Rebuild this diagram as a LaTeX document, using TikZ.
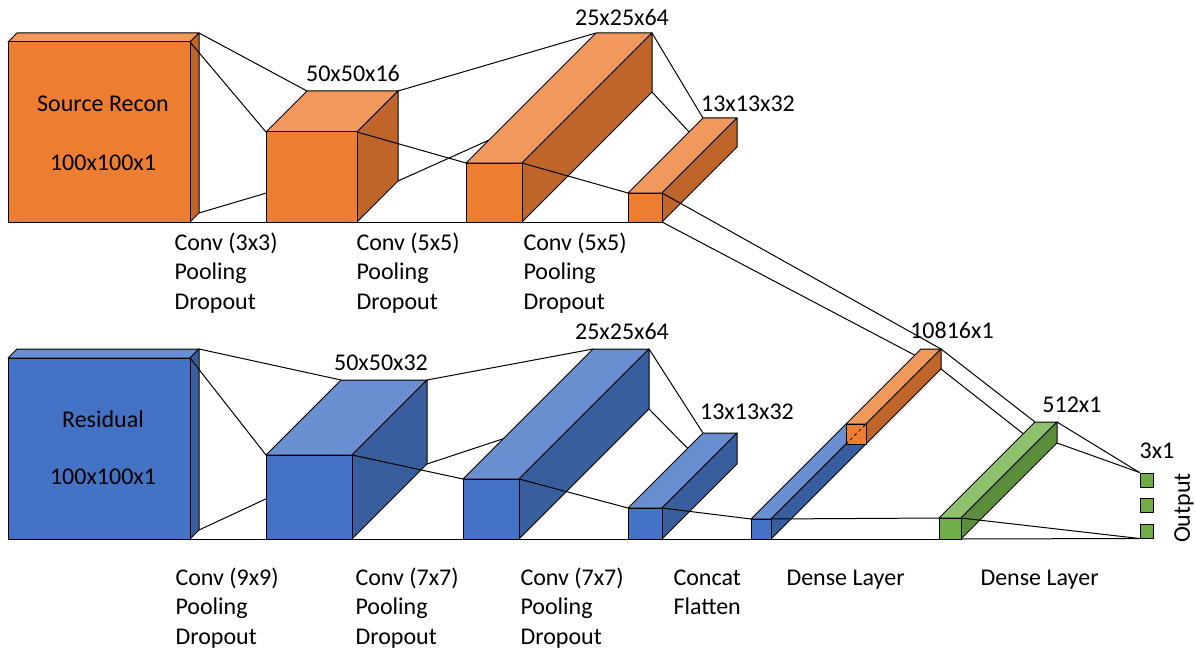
\documentclass[tikz,border=0pt]{standalone}
\usepackage{fontspec}
\setmainfont{Carlito}
\usetikzlibrary{calc}

\definecolor{orfront}{HTML}{ED7D31}
\definecolor{ortop}{HTML}{F1995C}
\definecolor{orside}{HTML}{C0652A}
\definecolor{blfront}{HTML}{4472C4}
\definecolor{bltop}{HTML}{6A8FD0}
\definecolor{blside}{HTML}{385E9E}
\definecolor{grfront}{HTML}{70AD47}
\definecolor{grtop}{HTML}{8DC16B}
\definecolor{grside}{HTML}{5B8E3A}

% corners of a block: name, left, top, right, bottom, depth
\newcommand{\defblock}[6]{%
  \coordinate (#1-ftl) at (#2,#3);
  \coordinate (#1-ftr) at (#4,#3);
  \coordinate (#1-fbr) at (#4,#5);
  \coordinate (#1-fbl) at (#2,#5);
  \coordinate (#1-btl) at ($(#1-ftl)+(#6,-#6)$);
  \coordinate (#1-btr) at ($(#1-ftr)+(#6,-#6)$);
  \coordinate (#1-bbr) at ($(#1-fbr)+(#6,-#6)$);
  \coordinate (#1-bbl) at ($(#1-fbl)+(#6,-#6)$);}
\newcommand{\drawblock}[2]{%
  \filldraw[fill=#2top] (#1-ftl) -- (#1-btl) -- (#1-btr) -- (#1-ftr) -- cycle;
  \filldraw[fill=#2side] (#1-ftr) -- (#1-btr) -- (#1-bbr) -- (#1-fbr) -- cycle;
  \filldraw[fill=#2front] (#1-ftl) rectangle (#1-fbr);}
\newcommand{\joinblocks}[2]{%
  \draw (#1-btr) -- (#2-btl);
  \draw (#1-ftr) -- (#2-ftl);
  \draw (#1-bbr) -- (#2-bbl);
  \draw (#1-fbr) -- (#2-fbl);}

\begin{document}
\begin{tikzpicture}[x=1pt,y=-1pt,line width=1pt,line join=round,
    every node/.style={font=\fontsize{24}{29.5}\selectfont,inner sep=0pt},
    dimlab/.style={anchor=base},
    layerlab/.style={anchor=base west,align=left},
    outsq/.style={draw,fill=grfront,minimum width=13pt,minimum height=14pt}]
  \useasboundingbox (0,0) rectangle (1196,650);
  % top row
  \defblock{t1}{8}{42}{190}{222}{9}
  \defblock{t2}{266}{132}{357}{222}{41}
  \defblock{t3}{466}{163}{522}{222}{130}
  \defblock{t4}{628}{193}{662}{222}{75}
  % bottom row
  \defblock{b1}{8}{358}{190}{539}{9}
  \defblock{b2}{266}{455}{352}{539}{75}
  \defblock{b3}{463}{479}{519}{539}{130}
  \defblock{b4}{628}{508}{662}{539}{75}
  % flatten, dense
  \defblock{fl}{751}{519}{771}{539}{95}
  \defblock{fo}{846}{424}{866}{444}{75}
  \defblock{d1}{939}{518}{961}{539}{96}

  \drawblock{t1}{or} \joinblocks{t1}{t2}
  \drawblock{t2}{or} \joinblocks{t2}{t3}
  \drawblock{t3}{or} \joinblocks{t3}{t4}
  \drawblock{t4}{or}
  \drawblock{b1}{bl} \joinblocks{b1}{b2}
  \drawblock{b2}{bl} \joinblocks{b2}{b3}
  \drawblock{b3}{bl} \joinblocks{b3}{b4}
  \drawblock{b4}{bl}

  \draw (t4-ftr) -- (fo-btr);
  \draw (t4-fbr) -- (fo-bbr);
  \draw (b4-ftr) -- (fl-ftl);
  \draw (b4-fbr) -- (fl-fbl);
  \drawblock{fl}{bl}
  \drawblock{fo}{or}
  \draw[dashed,line width=0.8pt] (fo-fbl) -- (fo-ftr);

  \draw (fl-ftr) -- (d1-ftl);
  \draw (fl-fbr) -- (d1-fbl);
  \draw (fo-btr) -- (d1-btl);
  \draw (fo-bbr) -- (d1-bbl);
  \drawblock{d1}{gr}

  \foreach \i/\y in {1/480,2/505.5,3/531}
    \node[outsq] (o\i) at (1146.5,\y) {};
  \draw (d1-btr) -- (o1.north west);
  \draw (d1-bbr) -- (o1.north west);
  \draw (d1-ftr) -- (o3.south west);
  \draw (d1-fbr) -- (o3.south west);

  % texts
  \node[dimlab] (srcname) at (103,112) {Source Recon};
  \node[dimlab] (srcsize) at (103,170) {100x100x1};
  \node[dimlab] (resname) at (103,427) {Residual};
  \node[dimlab] (ressize) at (103,484) {100x100x1};
  \node[dimlab] (t2size) at (353,82) {50x50x16};
  \node[dimlab] (t3size) at (622,26) {25x25x64};
  \node[dimlab] (t4size) at (748,112) {13x13x32};
  \node[dimlab] (b2size) at (381,370) {50x50x32};
  \node[dimlab] (b3size) at (622,339) {25x25x64};
  \node[dimlab] (b4size) at (747,419) {13x13x32};
  \node[dimlab] (flsize) at (952,338) {10816x1};
  \node[dimlab] (d1size) at (1072,412) {512x1};
  \node[dimlab] (outsize) at (1157,458) {3x1};
  \node[rotate=90] (outname) at (1184,508) {Output};

  % base anchor of a multi-line node sits on its last line
  \node[layerlab] (t1op) at (174,309) {Conv (3x3)\\Pooling\\Dropout};
  \node[layerlab] (t2op) at (356,309) {Conv (5x5)\\Pooling\\Dropout};
  \node[layerlab] (t3op) at (523,309) {Conv (5x5)\\Pooling\\Dropout};
  \node[layerlab] (b1op) at (175,644) {Conv (9x9)\\Pooling\\Dropout};
  \node[layerlab] (b2op) at (355,644) {Conv (7x7)\\Pooling\\Dropout};
  \node[layerlab] (b3op) at (520,644) {Conv (7x7)\\Pooling\\Dropout};
  \node[layerlab] (flop) at (673,614.5) {Concat\\Flatten};
  \node[layerlab] (d1op) at (786,585) {Dense Layer};
  \node[layerlab] (d2op) at (980,585) {Dense Layer};
\end{tikzpicture}
\end{document}
